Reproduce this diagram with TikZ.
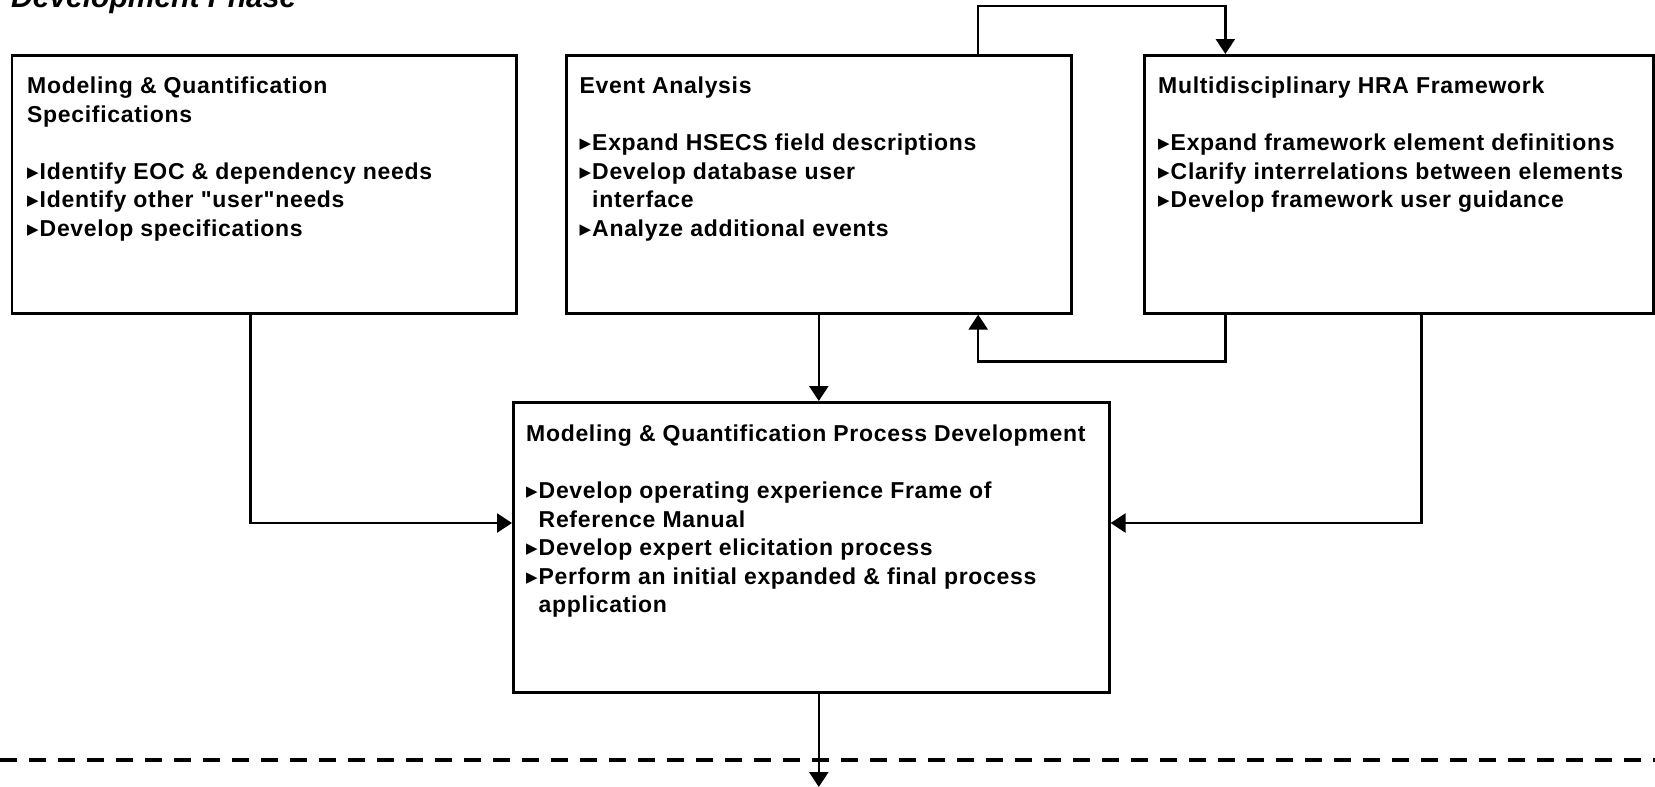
\documentclass[tikz,border=0pt]{standalone}
\usepackage{fontspec}
\setmainfont{Liberation Sans}
\newfontfamily\boxfont[LetterSpace=3]{Liberation Sans}
\newfontfamily\symfont{DejaVu Sans}
\usetikzlibrary{arrows.meta,calc}
\newcommand\bul{\raisebox{2pt}{\symfont\fontsize{15}{15}\selectfont ▶}\kern1pt}
\newcommand\ind{\hphantom{\bul}}
\tikzset{
  box/.style={draw, line width=2.6pt, inner sep=0pt, anchor=north west},
  txt/.style={anchor=north west, inner sep=0pt, align=left,
    font=\boxfont\bfseries\fontsize{23}{28.5}\selectfont},
  arr/.style={line width=2.5pt, -{Triangle[length=15pt,width=19pt]}},
  sep/.style={line width=3.2pt, dash pattern=on 17pt off 12pt}
}
\begin{document}
\begin{tikzpicture}[x=1pt,y=-1pt]
\useasboundingbox (0,0) rectangle (1655,787);
\fill[white] (0,0) rectangle (1655,787);
\node[anchor=base west, inner sep=0pt, font=\bfseries\itshape\fontsize{30}{30}\selectfont] (title) at (11,7) {Development Phase};

\node[box, minimum width=504.5pt, minimum height=258pt] (b1) at (10.5,54) {};
\node[box, minimum width=505pt, minimum height=258pt] (b2) at (565,54) {};
\node[box, minimum width=509pt, minimum height=258pt] (b3) at (1143,54) {};
\node[box, minimum width=596pt, minimum height=290pt] (b4) at (512,401) {};

\node[txt] (t1) at (27,77) {Modeling \& Quantification\\Specifications\\[28.5pt]
\bul Identify EOC \& dependency needs\\
\bul Identify other "user"needs\\
\bul Develop specifications};

\node[txt] (t2) at (579.5,77) {Event Analysis\\[28.5pt]
\bul Expand HSECS field descriptions\\
\bul Develop database user\\
\ind interface\\
\bul Analyze additional events};

\node[txt] (t3) at (1158,77) {Multidisciplinary HRA Framework\\[28.5pt]
\bul Expand framework element definitions\\
\bul Clarify interrelations between elements\\
\bul Develop framework user guidance};

\node[txt] (t4) at (526,425) {Modeling \& Quantification Process Development\\[28.5pt]
\bul Develop operating experience Frame of\\
\ind Reference Manual\\
\bul Develop expert elicitation process\\
\bul Perform an initial expanded \& final process\\
\ind application};

\coordinate (end) at (817.5,787);
\coordinate (ls) at (0,760);
\coordinate (le) at (1655,760);

\draw[sep] (ls) -- (le);

\draw[arr] ($(b1.south west)!0.473!(b1.south east)$) |- ($(b4.north west)!0.417!(b4.south west)$);
\draw[arr] ($(b3.south west)!0.544!(b3.south east)$) |- ($(b4.north east)!0.417!(b4.south east)$);
\draw[arr] (b2.south) -- (b2.south |- b4.north);
\draw[arr] (b2.south |- b4.south) -- (b2.south |- end);
\draw[arr] ($(b3.south west)!0.161!(b3.south east)$) -- ++(0,47) -| ($(b2.south west)!0.814!(b2.south east)$);
\draw[arr] ($(b2.north west)!0.814!(b2.north east)$) -- ++(0,-48) -| ($(b3.north west)!0.161!(b3.north east)$);
\end{tikzpicture}
\end{document}
